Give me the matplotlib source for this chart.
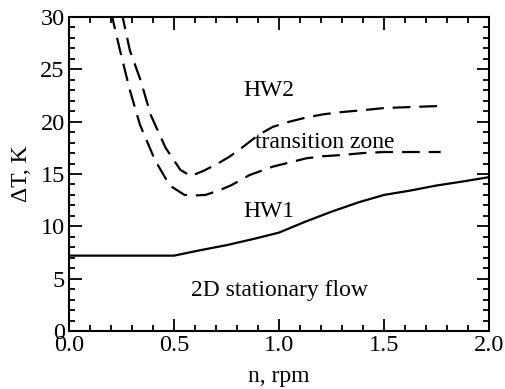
import matplotlib.pyplot as plt
from matplotlib.ticker import MultipleLocator

# HW1 boundary (solid)
n_hw1 = [0.0, 0.5, 0.62, 0.75, 0.88, 1.0, 1.12, 1.25, 1.38, 1.5, 1.62, 1.75, 1.88, 2.0]
dt_hw1 = [7.2, 7.2, 7.7, 8.2, 8.8, 9.4, 10.4, 11.4, 12.3, 13.0, 13.4, 13.9, 14.3, 14.7]

# HW2 boundary (upper dashed)
n_hw2 = [0.25, 0.29, 0.34, 0.39, 0.46, 0.53, 0.58, 0.64, 0.70, 0.76, 0.81, 0.90, 0.97,
         1.05, 1.13, 1.21, 1.29, 1.40, 1.50, 1.63, 1.77]
dt_hw2 = [30.5, 26.8, 24.0, 20.6, 17.5, 15.4, 14.8, 15.3, 15.9, 16.6, 17.3, 18.7, 19.5,
          20.0, 20.4, 20.7, 20.9, 21.1, 21.3, 21.4, 21.5]

# lower transition boundary (lower dashed)
n_tr = [0.20, 0.243, 0.29, 0.338, 0.41, 0.48, 0.55, 0.60, 0.65, 0.71, 0.77, 0.86, 0.97,
        1.05, 1.13, 1.21, 1.29, 1.40, 1.50, 1.63, 1.77]
dt_tr = [30.5, 26.8, 23.0, 19.7, 16.3, 13.9, 13.0, 12.95, 13.0, 13.4, 13.9, 14.9, 15.7,
         16.1, 16.5, 16.7, 16.8, 17.0, 17.1, 17.1, 17.1]

plt.rcParams['font.family'] = 'Liberation Serif'
plt.rcParams['font.size'] = 17

fig = plt.figure(figsize=(5.05, 3.89), dpi=100)
ax = fig.add_axes([69 / 505, 1 - 331 / 389, 420 / 505, 314 / 389])

ax.plot(n_hw1, dt_hw1, color='black', lw=1.6)
ax.plot(n_hw2, dt_hw2, color='black', lw=1.6, dashes=(8, 4))
ax.plot(n_tr, dt_tr, color='black', lw=1.6, dashes=(8, 4))

ax.text(0.95, 23.0, 'HW2', ha='center', va='center')
ax.text(1.22, 18.05, 'transition zone', ha='center', va='center')
ax.text(0.95, 11.4, 'HW1', ha='center', va='center')
ax.text(1.0, 3.9, '2D stationary flow', ha='center', va='center')

ax.set_xlim(0, 2.0)
ax.set_ylim(0, 30)
ax.xaxis.set_major_locator(MultipleLocator(0.5))
ax.xaxis.set_minor_locator(MultipleLocator(0.1))
ax.yaxis.set_major_locator(MultipleLocator(5))
ax.yaxis.set_minor_locator(MultipleLocator(1))
ax.xaxis.set_major_formatter(plt.FormatStrFormatter('%.1f'))
ax.tick_params(which='both', direction='in', top=True, right=True, width=1.3, labelsize=17.5)
ax.tick_params(which='major', length=9, pad=3)
ax.tick_params(which='minor', length=4.5)
for s in ax.spines.values():
    s.set_linewidth(1.5)

ax.set_xlabel('n, rpm', fontsize=17, labelpad=7)
ax.set_ylabel('ΔT, K', fontsize=17, labelpad=6)

fig.savefig('out.png', dpi=100)
